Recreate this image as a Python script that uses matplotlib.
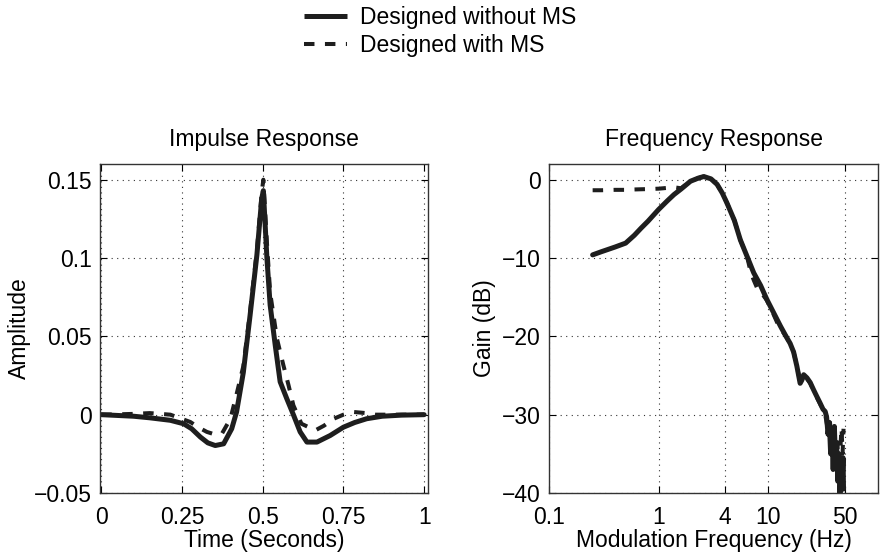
import matplotlib
matplotlib.use("Agg")
import matplotlib.pyplot as plt
from matplotlib.lines import Line2D

plt.rcParams['font.family'] = ['Liberation Sans', 'DejaVu Sans']

# ---------------- data ----------------
# Impulse response (time in seconds, amplitude)
t_solid = [0.0, 0.05, 0.10, 0.15, 0.214, 0.255, 0.28, 0.307, 0.33, 0.353, 0.379,
           0.404, 0.419, 0.44, 0.461, 0.482, 0.497, 0.502, 0.513, 0.523, 0.539,
           0.554, 0.575, 0.595, 0.616, 0.637, 0.668, 0.709, 0.75, 0.785, 0.822,
           0.87, 0.93, 1.0]
amp_solid = [0.0, -0.0005, -0.001, -0.002, -0.0036, -0.0058, -0.009, -0.0143, -0.018,
             -0.0197, -0.0186, -0.009, 0.0017, 0.027, 0.0636, 0.102, 0.138, 0.143,
             0.10, 0.070, 0.044, 0.021, 0.010, 0.0, -0.011, -0.0175, -0.0175,
             -0.0133, -0.008, -0.005, -0.0026, -0.001, -0.0003, 0.0]

t_dash = [0.0, 0.05, 0.10, 0.15, 0.214, 0.276, 0.30, 0.327, 0.35, 0.374, 0.40,
          0.419, 0.44, 0.461, 0.482, 0.497, 0.502, 0.513, 0.523, 0.544, 0.564,
          0.58, 0.595, 0.62, 0.663, 0.69, 0.72, 0.75, 0.782, 0.82, 0.85, 0.9, 1.0]
amp_dash = [0.0, 0.0002, 0.0005, 0.001, 0.0, -0.0047, -0.008, -0.011, -0.0125, -0.012,
            -0.0026, 0.013, 0.031, 0.066, 0.105, 0.142, 0.150, 0.11, 0.078, 0.0486,
            0.0316, 0.0188, 0.006, -0.0058, -0.010, -0.007, -0.0026, 0.0, 0.0017,
            0.001, 0.0, 0.0, 0.0]

# Frequency response (modulation frequency Hz, gain dB)
f_solid = [0.25, 0.3, 0.4, 0.5, 0.6, 0.69, 0.8, 1.0, 1.2, 1.38, 1.6, 1.95, 2.3, 2.58,
           3.0, 3.41, 3.8, 4.2, 4.9, 5.56, 6.4, 7.36, 8.5, 9.7, 11.0, 12.9, 14.5,
           15.8, 17.0, 18.2, 19.5, 20.2, 21.0, 22.5, 24.1, 25.8, 27.5, 29.6, 31.5,
           33.0, 34.0, 35.0, 36.0, 37.0, 38.0, 39.0, 40.0, 41.0, 42.0, 43.0, 44.0,
           45.0, 46.0, 47.0, 48.0, 48.5]
g_solid = [-9.6, -9.2, -8.6, -8.1, -7.1, -6.2, -5.3, -3.8, -2.7, -1.9, -1.2, -0.2, 0.2,
           0.4, 0.1, -0.6, -1.7, -3.0, -5.2, -7.7, -9.8, -11.9, -13.5, -15.3, -16.8,
           -18.7, -20.0, -20.9, -22.0, -23.8, -26.0, -25.6, -24.9, -25.3, -25.9,
           -26.8, -27.6, -28.5, -29.3, -29.6, -30.3, -32.5, -31.0, -35.0, -32.0,
           -37.0, -31.5, -36.0, -34.0, -38.5, -35.0, -40.0, -36.5, -39.0, -35.5, -39.5]

f_dash = [0.25, 0.3, 0.4, 0.5, 0.6, 0.8, 1.0, 1.2, 1.35, 1.6, 1.95, 2.3, 2.58, 3.0,
          3.41, 3.8, 4.2, 4.9, 5.56, 6.4, 6.9, 7.4, 8.0, 8.5, 9.7, 11.0, 12.0, 12.9,
          14.5, 15.8, 17.0, 18.2, 19.5, 21.0, 22.5, 24.1, 25.8, 27.5, 29.6, 31.5,
          33.0, 35.0, 36.5, 38.0, 39.5, 41.0, 42.5, 44.0, 45.5, 46.5, 47.5, 48.5]
g_dash = [-1.35, -1.35, -1.3, -1.3, -1.25, -1.2, -1.15, -1.05, -0.95, -1.1, -0.2, 0.2,
          0.4, 0.1, -0.6, -1.7, -3.0, -5.2, -7.7, -9.8, -11.8, -12.9, -14.0, -14.3,
          -15.4, -17.0, -18.2, -19.0, -20.0, -21.0, -22.0, -23.8, -25.8, -25.2,
          -25.4, -26.0, -26.9, -27.7, -28.6, -29.4, -30.0, -32.0, -31.0, -34.0,
          -31.8, -35.5, -33.5, -37.5, -34.0, -31.7, -35.0, -31.8]

t_ticks = [0, 0.25, 0.5, 0.75, 1]
t_ticklabels = ['0', '0.25', '0.5', '0.75', '1']
amp_ticks = [-0.05, 0, 0.05, 0.1, 0.15]
amp_ticklabels = ['\u22120.05', '0', '0.05', '0.1', '0.15']
f_ticks = [0.1, 1, 4, 10, 50]
f_ticklabels = ['0.1', '1', '4', '10', '50']
g_ticks = [-40, -30, -20, -10, 0]
g_ticklabels = ['\u221240', '\u221230', '\u221220', '\u221210', '0']

labels = ['Designed without MS', 'Designed with MS']

# ---------------- figure ----------------
W, H = 880, 554
fig = plt.figure(figsize=(W / 100, H / 100), dpi=100)

def ax_rect(x0, x1, y0, y1):
    return [x0 / W, 1 - y1 / H, (x1 - x0) / W, (y1 - y0) / H]

ax1 = fig.add_axes(ax_rect(100, 428, 164, 493))
ax2 = fig.add_axes(ax_rect(549, 878, 164, 493))

col = '#1e1e1e'
fs = 16.5
solid_kw = dict(color=col, lw=3.6, solid_capstyle='round', solid_joinstyle='round')
dash_kw = dict(color=col, lw=2.9, linestyle=(0, (2.6, 2.6)), dash_capstyle='butt')

ax1.plot(t_solid, amp_solid, **solid_kw)
ax1.plot(t_dash, amp_dash, **dash_kw)
ax1.set_xlim(-0.004, 1.012)
ax1.set_ylim(-0.05, 0.16)
ax1.set_xticks(t_ticks)
ax1.set_xticklabels(t_ticklabels)
ax1.set_yticks(amp_ticks)
ax1.set_yticklabels(amp_ticklabels)
ax1.set_title('Impulse Response', fontsize=fs, pad=13)
ax1.set_xlabel('Time (Seconds)', fontsize=fs, labelpad=0)
ax1.set_ylabel('Amplitude', fontsize=fs, labelpad=2)

ax2.plot(f_solid, g_solid, **solid_kw)
ax2.plot(f_dash, g_dash, **dash_kw)
ax2.set_xscale('log')
ax2.set_xlim(0.1, 100)
ax2.set_ylim(-40, 2)
ax2.set_xticks(f_ticks)
ax2.set_xticklabels(f_ticklabels)
ax2.minorticks_off()
ax2.set_yticks(g_ticks)
ax2.set_yticklabels(g_ticklabels)
ax2.set_title('Frequency Response', fontsize=fs, pad=13)
ax2.set_xlabel('Modulation Frequency (Hz)', fontsize=fs, labelpad=0)
ax2.set_ylabel('Gain (dB)', fontsize=fs, labelpad=4)

for ax in (ax1, ax2):
    ax.grid(True, color='#333333', linestyle=(0, (1, 4)), linewidth=0.8)
    ax.tick_params(direction='in', length=5, width=0.8, top=True, right=True,
                   labelsize=fs, colors='black')
    ax.tick_params(axis='y', pad=6)
    ax.tick_params(axis='x', pad=9)
    ax.tick_params(which='minor', length=0)
    for s in ax.spines.values():
        s.set_linewidth(1.0)
        s.set_color('#333333')

handles = [Line2D([], [], **solid_kw), Line2D([], [], **dash_kw)]
handles[0].set_solid_capstyle('butt')
fig.legend(handles, labels, loc='upper center', bbox_to_anchor=(0.5, 0.998),
           frameon=False, fontsize=fs, handlelength=1.9, handletextpad=0.55,
           labelspacing=0.25, borderpad=0.2, borderaxespad=0)

fig.savefig('out.png', dpi=100)
